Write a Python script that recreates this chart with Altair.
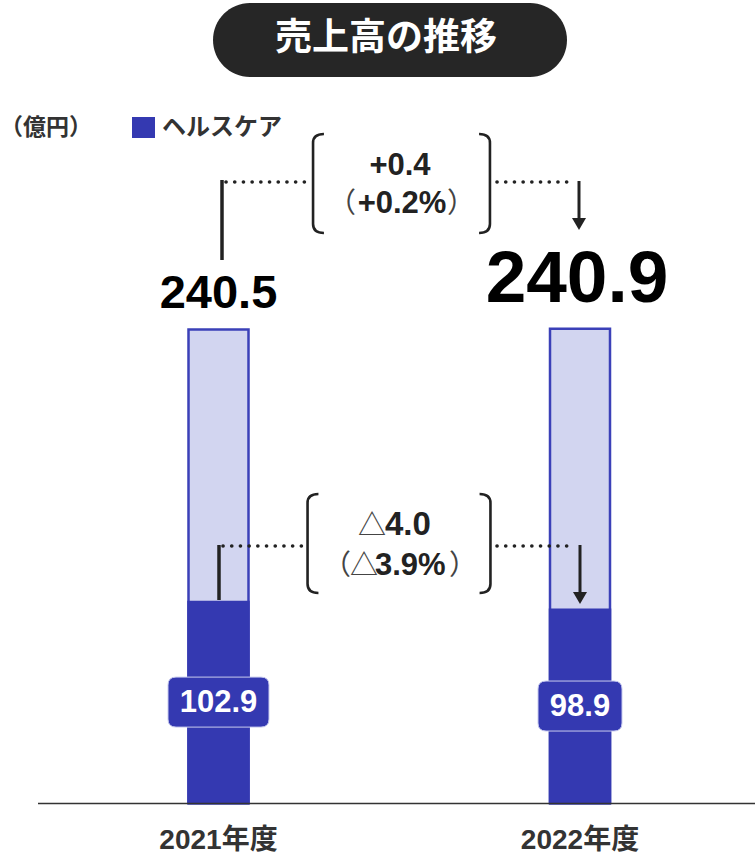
import altair as alt
import pandas as pd

# ---- data -------------------------------------------------------------
years = ["2021年度", "2022年度"]
total_sales = [240.5, 240.9]        # 売上高（億円）
healthcare_sales = [102.9, 98.9]    # うちヘルスケア（億円）

# ---- styling ----------------------------------------------------------
BLUE = "#3439b1"
LIGHT = "#d2d5f0"
EDGE = "#3b40b8"
INK = "#222222"
GRAY = "#333333"
LATIN = "Liberation Sans, Arial, Noto Sans CJK JP"
CJK = "Noto Sans CJK JP"

df = pd.DataFrame({"year": years, "total": total_sales, "healthcare": healthcare_sales})
one = pd.DataFrame({"k": [0]})

# year-over-year changes
d_total = total_sales[1] - total_sales[0]
p_total = d_total / total_sales[0] * 100
d_hc = healthcare_sales[1] - healthcare_sales[0]
p_hc = d_hc / healthcare_sales[0] * 100


def mag(v, pct=False):
    return f"{abs(v):.1f}" + ("%" if pct else "")


X_SCALE = alt.Scale(type="point", domain=years, range=[218.5, 580], padding=0)
Y_SCALE = alt.Scale(domain=[-26.13, 407.69], range=[855, 0], nice=False, zero=False)
X = alt.X("year:N", scale=X_SCALE, axis=None)


def fixed_text(txt, x, y, size, weight="bold", color=INK, align="center",
               baseline="alphabetic", font=LATIN):
    return alt.Chart(one).mark_text(
        align=align, baseline=baseline, font=font, fontSize=size,
        fontWeight=weight, color=color
    ).encode(x=alt.value(x), y=alt.value(y), text=alt.value(txt))


def hline(x1, x2, y, width=3.6):
    # dotted leader line
    return alt.Chart(one).mark_rule(color=INK, strokeWidth=width, strokeDash=[0.1, 8.6],
                                    strokeCap="round").encode(
        x=alt.value(x1), x2=alt.value(x2), y=alt.value(y))


def vline(x, y1, y2, width=3.5):
    # solid connector drawn as a thin rectangle
    return alt.Chart(one).mark_rect(color=INK).encode(
        x=alt.value(x - width / 2), x2=alt.value(x + width / 2),
        y=alt.value(y1), y2=alt.value(y2))


def symbol(path, x, y, px, filled=False, color=INK, sw=2.6):
    if filled:
        return alt.Chart(one).mark_point(shape=path, size=px * px, filled=True, opacity=1,
                                         fill=color, strokeWidth=0).encode(
            x=alt.value(x), y=alt.value(y))
    return alt.Chart(one).mark_point(shape=path, size=px * px, filled=False, opacity=1,
                                     stroke=color, strokeWidth=sw).encode(
        x=alt.value(x), y=alt.value(y))


def rounded_box(w, h, rad):
    s = 2.0 / w
    hx, hy, c = 1.0, round(h * s / 2, 4), round(rad * s, 4)
    a, b = round(hx - c, 4), round(hy - c, 4)
    return (f"M {-a} {-hy} L {a} {-hy} Q {hx} {-hy} {hx} {-b} "
            f"L {hx} {b} Q {hx} {hy} {a} {hy} L {-a} {hy} "
            f"Q {-hx} {hy} {-hx} {b} L {-hx} {-b} Q {-hx} {-hy} {-a} {-hy} Z")


BRACKET_L = "M 0.12 -1 Q -0.1 -1 -0.1 -0.82 L -0.1 0.82 Q -0.1 1 0.12 1"
BRACKET_R = "M -0.12 -1 Q 0.1 -1 0.1 -0.82 L 0.1 0.82 Q 0.1 1 -0.12 1"
ARROW = "M -1 -0.85 L 1 -0.85 L 0 0.85 Z"

# ---- bars -------------------------------------------------------------
bars_total = alt.Chart(df).mark_bar(width=60, fill=LIGHT, stroke=EDGE, strokeWidth=2.5).encode(
    x=X, y=alt.Y("total:Q", scale=Y_SCALE, axis=None), y2=alt.datum(0))

bars_hc = alt.Chart(df).mark_bar(width=62.5, color=BLUE).encode(
    x=X, y=alt.Y("healthcare:Q", scale=Y_SCALE, axis=None), y2=alt.datum(0))

baseline = alt.Chart(one).transform_calculate(zero="0").mark_rule(
    color=GRAY, strokeWidth=1.5
).encode(x=alt.value(38), x2=alt.value(755), y=alt.Y("zero:Q", scale=Y_SCALE, axis=None))

# total values above the bars (latest year emphasised)
total_prev = alt.Chart(df).transform_filter(alt.datum.year == years[0]).mark_text(
    font=LATIN, fontWeight="bold", fontSize=47, baseline="alphabetic", dy=-22, color="#000"
).encode(x=X, y=alt.Y("total:Q", scale=Y_SCALE, axis=None), text=alt.Text("total:Q", format=".1f"))

total_last = alt.Chart(df).transform_filter(alt.datum.year == years[1]).mark_text(
    font=LATIN, fontWeight="bold", fontSize=73, baseline="alphabetic", dy=-27, dx=-3, color="#000"
).encode(x=X, y=alt.Y("total:Q", scale=Y_SCALE, axis=None), text=alt.Text("total:Q", format=".1f"))


# healthcare value badges, centred on the middle of each segment
def badge(year, w):
    return alt.Chart(df).transform_filter(alt.datum.year == year).transform_calculate(
        mid="datum.healthcare / 2"
    ).mark_point(
        shape=rounded_box(w, 50, 8), size=w * w, filled=True, opacity=1,
        fill=BLUE, stroke="#c8cbef", strokeWidth=1
    ).encode(x=X, y=alt.Y("mid:Q", scale=Y_SCALE, axis=None))


badge_text = alt.Chart(df).transform_calculate(mid="datum.healthcare / 2").mark_text(
    font=LATIN, fontWeight="bold", fontSize=31, baseline="middle", color="white", dy=1
).encode(x=X, y=alt.Y("mid:Q", scale=Y_SCALE, axis=None),
         text=alt.Text("healthcare:Q", format=".1f"))

year_labels = alt.Chart(df).mark_text(
    font=LATIN, fontWeight="bold", fontSize=28, baseline="alphabetic", color=GRAY
).encode(x=X, y=alt.value(849), text="year:N")

# ---- title and legend -------------------------------------------------
title_pill = alt.Chart(one).mark_rect(cornerRadius=37, color="#262626").encode(
    x=alt.value(213), x2=alt.value(567), y=alt.value(3), y2=alt.value(77))
title_text = fixed_text("売上高の推移", 386, 39, 37, color="white", baseline="middle", font=CJK)

unit_text = fixed_text("（億円）", 0, 128, 23, color=GRAY, align="left", baseline="middle", font=CJK)
legend_sq = alt.Chart(one).mark_rect(color=BLUE).encode(
    x=alt.value(132), x2=alt.value(155), y=alt.value(117), y2=alt.value(138))
legend_text = fixed_text("ヘルスケア", 162, 128, 24, color=GRAY, align="left", baseline="middle", font=CJK)

# ---- change annotations -----------------------------------------------
upper = [
    vline(222, 180, 260),
    hline(226, 310, 182),
    symbol(BRACKET_L, 318, 183.5, 99),
    symbol(BRACKET_R, 485, 183.5, 99),
    hline(497, 573, 182),
    vline(579, 181, 222, width=3),
    symbol(ARROW, 579, 224, 14, filled=True),
    fixed_text(f"+{mag(d_total)}", 400, 175, 31),
    fixed_text("（", 356, 213, 28, weight="normal", color="#444", align="right", font=CJK),
    fixed_text(f"+{mag(p_total, True)}", 402, 213, 31),
    fixed_text("）", 447, 213, 28, weight="normal", color="#444", align="left", font=CJK),
]

lower = [
    vline(219, 545, 600),
    hline(223, 305, 546),
    symbol(BRACKET_L, 312.5, 543.5, 99),
    symbol(BRACKET_R, 485.5, 543.5, 99),
    hline(497, 573, 546),
    vline(580, 545, 596, width=3),
    symbol(ARROW, 580, 598, 14, filled=True),
    fixed_text("△", 386, 535, 28, weight="normal", color="#444", align="right", font=CJK),
    fixed_text(mag(d_hc), 385, 535, 33, align="left"),
    fixed_text("（", 351, 575, 28, weight="normal", color="#444", align="right", font=CJK),
    fixed_text("△", 350, 575, 28, weight="normal", color="#444", align="left", font=CJK),
    fixed_text(mag(p_hc, True), 375, 575, 31, align="left"),
    fixed_text("）", 449, 575, 28, weight="normal", color="#444", align="left", font=CJK),
]

chart = alt.layer(
    bars_total, bars_hc, baseline, total_prev, total_last,
    badge(years[0], 101), badge(years[1], 84), badge_text, year_labels,
    title_pill, title_text, unit_text, legend_sq, legend_text, *upper, *lower
).properties(
    width=755, height=855, padding=0, autosize=alt.AutoSizeParams(type="none")
).configure_view(stroke=None)

chart.save("out.html", embed_options={"renderer": "svg", "actions": False})
